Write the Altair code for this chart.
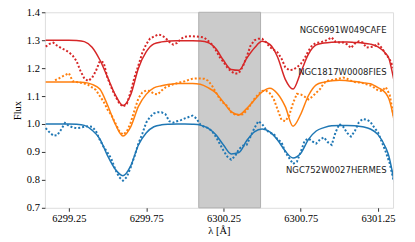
import altair as alt
import pandas as pd

# ---------------- data ----------------
wl_model = [6299.10, 6299.15, 6299.20, 6299.25, 6299.30, 6299.35, 6299.40, 6299.45, 6299.50, 6299.55,
            6299.60, 6299.65, 6299.70, 6299.75, 6299.80, 6299.85, 6299.90, 6299.95, 6300.00, 6300.05,
            6300.10, 6300.15, 6300.20, 6300.25, 6300.30, 6300.35, 6300.40, 6300.45, 6300.50, 6300.55,
            6300.60, 6300.65, 6300.70, 6300.75, 6300.80, 6300.85, 6300.90, 6300.95, 6301.00, 6301.05,
            6301.10, 6301.15, 6301.20, 6301.25, 6301.30, 6301.32, 6301.34, 6301.355]

model_cafe = [1.3, 1.3, 1.3, 1.3, 1.299, 1.295, 1.275, 1.23, 1.168, 1.105,
              1.066, 1.105, 1.2, 1.258, 1.287, 1.294, 1.297, 1.298, 1.298, 1.298,
              1.297, 1.292, 1.27, 1.228, 1.195, 1.192, 1.235, 1.272, 1.296, 1.285,
              1.24, 1.16, 1.125, 1.185, 1.25, 1.283, 1.29, 1.293, 1.294, 1.294,
              1.292, 1.29, 1.286, 1.276, 1.252, 1.235, 1.19, 1.15]

model_fies = [1.15, 1.15, 1.15, 1.15, 1.15, 1.149, 1.142, 1.125, 1.068, 1.0,
              0.957, 0.99, 1.063, 1.106, 1.129, 1.137, 1.142, 1.145, 1.145, 1.145,
              1.142, 1.13, 1.112, 1.078, 1.044, 1.033, 1.055, 1.086, 1.115, 1.128,
              1.108, 1.062, 0.992, 1.035, 1.102, 1.14, 1.15, 1.155, 1.157, 1.155,
              1.152, 1.148, 1.144, 1.13, 1.11, 1.09, 1.05, 1.01]

model_hermes = [1.0, 1.0, 1.0, 1.0, 0.999, 0.995, 0.978, 0.947, 0.887, 0.838,
                0.815, 0.85, 0.925, 0.968, 0.99, 0.997, 0.999, 1.0, 1.0, 0.999,
                0.996, 0.985, 0.962, 0.925, 0.893, 0.898, 0.94, 0.972, 0.982, 0.972,
                0.943, 0.903, 0.878, 0.895, 0.945, 0.975, 0.987, 0.994, 0.995, 0.995,
                0.994, 0.99, 0.982, 0.962, 0.915, 0.885, 0.835, 0.79]

wl_obs = [round(6299.10 + 0.025 * i, 3) for i in range(91)]

obs_cafe = [1.277, 1.287, 1.291, 1.28, 1.272, 1.265, 1.257, 1.245, 1.225, 1.19,
            1.163, 1.154, 1.165, 1.19, 1.225, 1.22, 1.165, 1.13, 1.1, 1.075,
            1.062, 1.072, 1.115, 1.168, 1.21, 1.255, 1.285, 1.306, 1.313, 1.32,
            1.318, 1.308, 1.294, 1.284, 1.29, 1.305, 1.312, 1.314, 1.314, 1.313,
            1.312, 1.31, 1.298, 1.285, 1.265, 1.24, 1.222, 1.202, 1.188, 1.18,
            1.183, 1.205, 1.24, 1.28, 1.3, 1.305, 1.305, 1.293, 1.275, 1.266,
            1.256, 1.235, 1.203, 1.193, 1.194, 1.203, 1.215, 1.235, 1.262, 1.283,
            1.29, 1.292, 1.296, 1.302, 1.31, 1.294, 1.292, 1.292, 1.285, 1.272,
            1.288, 1.296, 1.292, 1.274, 1.275, 1.278, 1.288, 1.272, 1.25, 1.232,
            1.2]

obs_hermes = [0.985, 0.97, 0.958, 0.96, 0.98, 1.004, 0.993, 0.988, 0.985, 0.987,
              0.99, 0.992, 0.99, 0.975, 0.943, 0.918, 0.898, 0.875, 0.838, 0.81,
              0.797, 0.81, 0.845, 0.885, 0.93, 0.965, 1.005, 1.025, 1.038, 1.042,
              1.042, 1.035, 1.01, 1.005, 1.01, 1.014, 1.02, 1.025, 1.03, 1.02,
              0.998, 0.99, 0.986, 0.975, 0.955, 0.93, 0.905, 0.883, 0.872, 0.885,
              0.91, 0.922, 0.925, 0.955, 0.985, 1.01, 1.0, 0.98, 0.968, 0.965,
              0.945, 0.935, 0.9, 0.878, 0.857, 0.865, 0.9, 0.94, 0.948, 0.938,
              0.93, 0.945, 0.952, 0.935, 0.925, 0.97, 1.0, 0.99, 0.968, 0.955,
              0.975, 1.005, 1.018, 1.016, 1.008, 0.988, 0.97, 0.935, 0.9, 0.86,
              0.8]

wl_obs_fies = [6299.16] + [round(6299.175 + 0.025 * i, 3) for i in range(88)]

obs_fies = [1.157,
            1.16, 1.168, 1.175, 1.182, 1.153, 1.15, 1.148, 1.145, 1.14, 1.131,
            1.122, 1.1, 1.08, 1.052, 1.032, 1.004, 0.975, 0.962, 0.973, 1.005,
            1.05, 1.092, 1.113, 1.12, 1.118, 1.108, 1.106, 1.12, 1.131, 1.137,
            1.142, 1.146, 1.15, 1.153, 1.158, 1.162, 1.163, 1.163, 1.162, 1.155,
            1.138, 1.115, 1.09, 1.075, 1.064, 1.042, 1.034, 1.032, 1.035, 1.048,
            1.068, 1.09, 1.106, 1.118, 1.12, 1.11, 1.09, 1.052, 1.015, 1.01,
            1.03, 1.075, 1.108, 1.106, 1.098, 1.088, 1.098, 1.112, 1.125, 1.146,
            1.155, 1.157, 1.16, 1.163, 1.166, 1.162, 1.155, 1.15, 1.149, 1.147,
            1.142, 1.138, 1.13, 1.12, 1.118, 1.132, 1.105, 1.03]

series_names = ["NGC6991W049CAFE", "NGC1817W0008FIES", "NGC752W0027HERMES"]
series_colors = ["#d62728", "#ff7f0e", "#1f77b4"]

label_x = [6301.305, 6301.305, 6301.305]
label_y = [1.336, 1.186, 0.836]

span_start = [6300.09]
span_end = [6300.49]

x_domain = [6299.095, 6301.347]
y_domain = [0.7, 1.4]
x_ticks = [6299.25, 6299.75, 6300.25, 6300.75, 6301.25]
y_ticks = [0.7, 0.8, 0.9, 1.0, 1.1, 1.2, 1.3, 1.4]

# ---------------- tables ----------------
model_rows = []
for name, vals in zip(series_names, [model_cafe, model_fies, model_hermes]):
    for w, f in zip(wl_model, vals):
        model_rows.append({"wl": w, "flux": f, "series": name})
df_model = pd.DataFrame(model_rows)

obs_rows = []
for name, wls, vals in zip(series_names, [wl_obs, wl_obs_fies, wl_obs],
                           [obs_cafe, obs_fies, obs_hermes]):
    for w, f in zip(wls, vals):
        obs_rows.append({"wl": w, "flux": f, "series": name})
df_obs = pd.DataFrame(obs_rows)

df_lab = pd.DataFrame({"x": label_x, "y": label_y, "label": series_names})
df_span = pd.DataFrame({"x0": span_start, "x1": span_end})

serif = "Liberation Serif, DejaVu Serif, serif"

xscale = alt.Scale(domain=x_domain, nice=False, zero=False)
yscale = alt.Scale(domain=y_domain, nice=False, zero=False)
cscale = alt.Scale(domain=series_names, range=series_colors)

xaxis = alt.Axis(values=x_ticks, format=".2f", title="λ [Å]", grid=False,
                 labelFont=serif, labelFontSize=10.5, labelColor="#000",
                 titleFont=serif, titleFontSize=10.5, titleFontWeight="normal",
                 titleColor="#000", titlePadding=2, tickSize=3.5, tickColor="#000",
                 tickWidth=0.8, labelPadding=2, domain=False)
yaxis = alt.Axis(values=y_ticks, format=".1f", title="Flux", grid=False,
                 labelFont=serif, labelFontSize=10.5, labelColor="#000",
                 titleFont=serif, titleFontSize=10.5, titleFontWeight="normal",
                 titleColor="#000", titlePadding=4, tickSize=3.5, tickColor="#000",
                 tickWidth=0.8, labelPadding=2, domain=False)

span = alt.Chart(df_span).mark_rect(color="#cbcbcb", stroke="#b0b0b0", strokeWidth=1).encode(
    x=alt.X("x0:Q", scale=xscale, axis=xaxis), x2="x1:Q")

models = alt.Chart(df_model).mark_line(strokeWidth=1.5, interpolate="monotone", clip=True).encode(
    x=alt.X("wl:Q", scale=xscale, axis=xaxis),
    y=alt.Y("flux:Q", scale=yscale, axis=yaxis),
    color=alt.Color("series:N", scale=cscale, legend=None),
    detail="series:N")

obs = alt.Chart(df_obs).mark_line(strokeWidth=2, strokeDash=[2, 2], clip=True).encode(
    x=alt.X("wl:Q", scale=xscale, axis=xaxis),
    y=alt.Y("flux:Q", scale=yscale, axis=yaxis),
    color=alt.Color("series:N", scale=cscale, legend=None),
    detail="series:N")

labels = alt.Chart(df_lab).mark_text(align="right", baseline="middle", font="DejaVu Sans",
                                     fontSize=8.5, color="#222").encode(
    x=alt.X("x:Q", scale=xscale, axis=xaxis),
    y=alt.Y("y:Q", scale=yscale, axis=yaxis),
    text="label:N")

chart = alt.layer(span, models, obs, labels).properties(
    width=349, height=196,
    padding={"left": 37, "top": 4, "right": 14, "bottom": 30},
    autosize=alt.AutoSizeParams(type="none"),
).configure_view(stroke="#222", strokeWidth=0.9).configure(background="white")

chart.save("out.html", embed_options={"renderer": "svg", "actions": False})
